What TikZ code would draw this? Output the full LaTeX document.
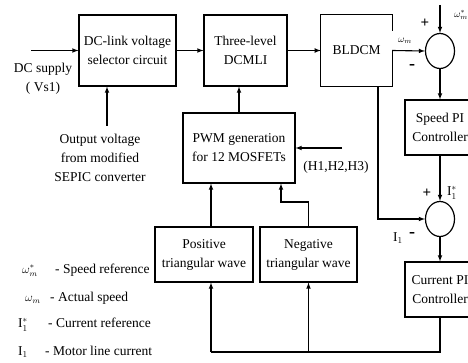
\documentclass[tikz,border=0pt]{standalone}
\usepackage{fontspec}
\setmainfont{Liberation Serif}
\usetikzlibrary{arrows,shapes.geometric}

\begin{document}
\begin{tikzpicture}[x=1pt,y=-1pt,
  every node/.style={font=\fontsize{13.5}{19}\selectfont},
  blk/.style={draw, line width=1.2pt, align=center, inner sep=0pt},
  sum/.style={draw, ellipse, line width=1.2pt, minimum width=29pt, minimum height=35pt, inner sep=0pt},
  lbl/.style={align=center, inner sep=0pt},
  tiny/.style={inner sep=0pt, font=\fontsize{10}{11}\selectfont},
  sgn/.style={inner sep=0pt, font=\fontsize{15}{15}\selectfont\bfseries},
  minus/.style={inner sep=0pt, font=\fontsize{18}{18}\selectfont\bfseries},
  sig/.style={line width=1.1pt}]

\path[use as bounding box, clip] (0,0) rectangle (468,363);

% blocks
\node[blk, minimum width=97pt, minimum height=71pt] (dclink) at (127.5,50.5) {DC-link voltage\\selector circuit};
\node[blk, minimum width=83pt, minimum height=71pt] (dcmli) at (245.5,50.5) {Three-level\\DCMLI};
\node[lbl, minimum width=71pt, minimum height=71pt] (bldcm) at (356.5,50.5) {BLDCM};
\draw [line width=1.2pt] (bldcm.east) -- (bldcm.south east) -- (bldcm.south west) -- (bldcm.north west) -- (bldcm.north east) -- ++(0,16);
\node[sum] (sum1) at (440,51) {};
\node[blk, minimum width=70pt, minimum height=55pt] (speedpi) at (440,127.5) {Speed PI\\Controller};
\node[sum] (sum2) at (440,219) {};
\node[blk, minimum width=70pt, minimum height=55pt] (currpi) at (440,289.5) {Current PI\\Controller};
\node[blk, minimum width=112pt, minimum height=70pt] (pwm) at (239,148) {PWM generation\\for 12 MOSFETs};
\node[blk, minimum width=98pt, minimum height=55pt] (postri) at (204,254.5) {Positive\\triangular wave};
\node[blk, minimum width=97pt, minimum height=55pt] (negtri) at (308.5,254.5) {Negative\\triangular wave};

% texts
\node[lbl] (dcin) at (43,79) {DC supply\\( Vs1)};
\node[lbl] (outv) at (100,158) {Output voltage\\from modified\\SEPIC converter};
\node[lbl] (hall) at (336,167) {(H1,H2,H3)};

% signals
\coordinate (dcstart) at (31,50.5);
\coordinate (vin) at (107,126);
\coordinate (wref) at (440,5);
\coordinate (tap) at (378,0);
\coordinate (fb) at (211,352);
\coordinate (nm) at (281,202);
\coordinate (hstart) at (342,148);

\draw [sig,-latex] (dcstart) -- (dclink.west);
\draw [sig,-latex] (vin) -- (vin |- dclink.south);
\draw [sig,-latex] (dclink) -- (dcmli);
\draw [sig,-latex] (dcmli) -- (bldcm);
\draw [sig,-latex] (bldcm.east) -- (sum1.west);
\draw [sig,-latex] (wref) -- (sum1.north);
\draw [sig,-latex] (sum1.south) -- (speedpi.north);
\draw [sig,-latex] (speedpi.south) -- (sum2.north);
\draw [sig,-latex] (sum2.south) -- (currpi.north);
\draw [sig,-latex] (tap |- bldcm.south) |- (sum2.west);
\draw [sig] (currpi.south) |- (fb);
\draw [sig,-latex] (fb) -- (fb |- postri.south);
\draw [sig,-latex] (negtri.south |- fb) -- (negtri.south);
\draw [sig,-latex] (fb |- postri.north) -- (fb |- pwm.south);
\draw [sig,-latex] (negtri.north) |- (nm) -- (nm |- pwm.south);
\draw [sig,-latex] (hstart) -- (pwm.east);
\draw [sig,-latex] (pwm.north) -- (pwm.north |- dcmli.south);

% signs
\node[sgn] (p1) at (425,23) {+};
\node[minus] (m1) at (412,67) {-};
\node[tiny] (wm) at (405,41) {$\omega_m$};
\node[tiny] (wmr) at (461,15) {$\omega_m^*$};
\node[sgn] (p2) at (427,193) {+};
\node[lbl] (i1r) at (452,193) {$\mathrm{I}_1^*$};
\node[lbl] (i1) at (398,238) {$\mathrm{I}_1$};
\node[minus] (m2) at (412,235) {-};

% legend
\node[lbl, anchor=west] (key1) at (22,270) {\makebox[33pt][l]{\fontsize{12}{13}\selectfont$\omega_m^*$}- Speed reference};
\node[lbl, anchor=west] (key2) at (25,298) {\makebox[25pt][l]{\fontsize{12}{13}\selectfont$\omega_m$}- Actual speed};
\node[lbl, anchor=west] (key3) at (18,325) {\makebox[30pt][l]{$\mathrm{I}_1^*$}- Current reference};
\node[lbl, anchor=west] (key4) at (18,352) {\makebox[27pt][l]{$\mathrm{I}_1$}- Motor line current};

\end{tikzpicture}
\end{document}
